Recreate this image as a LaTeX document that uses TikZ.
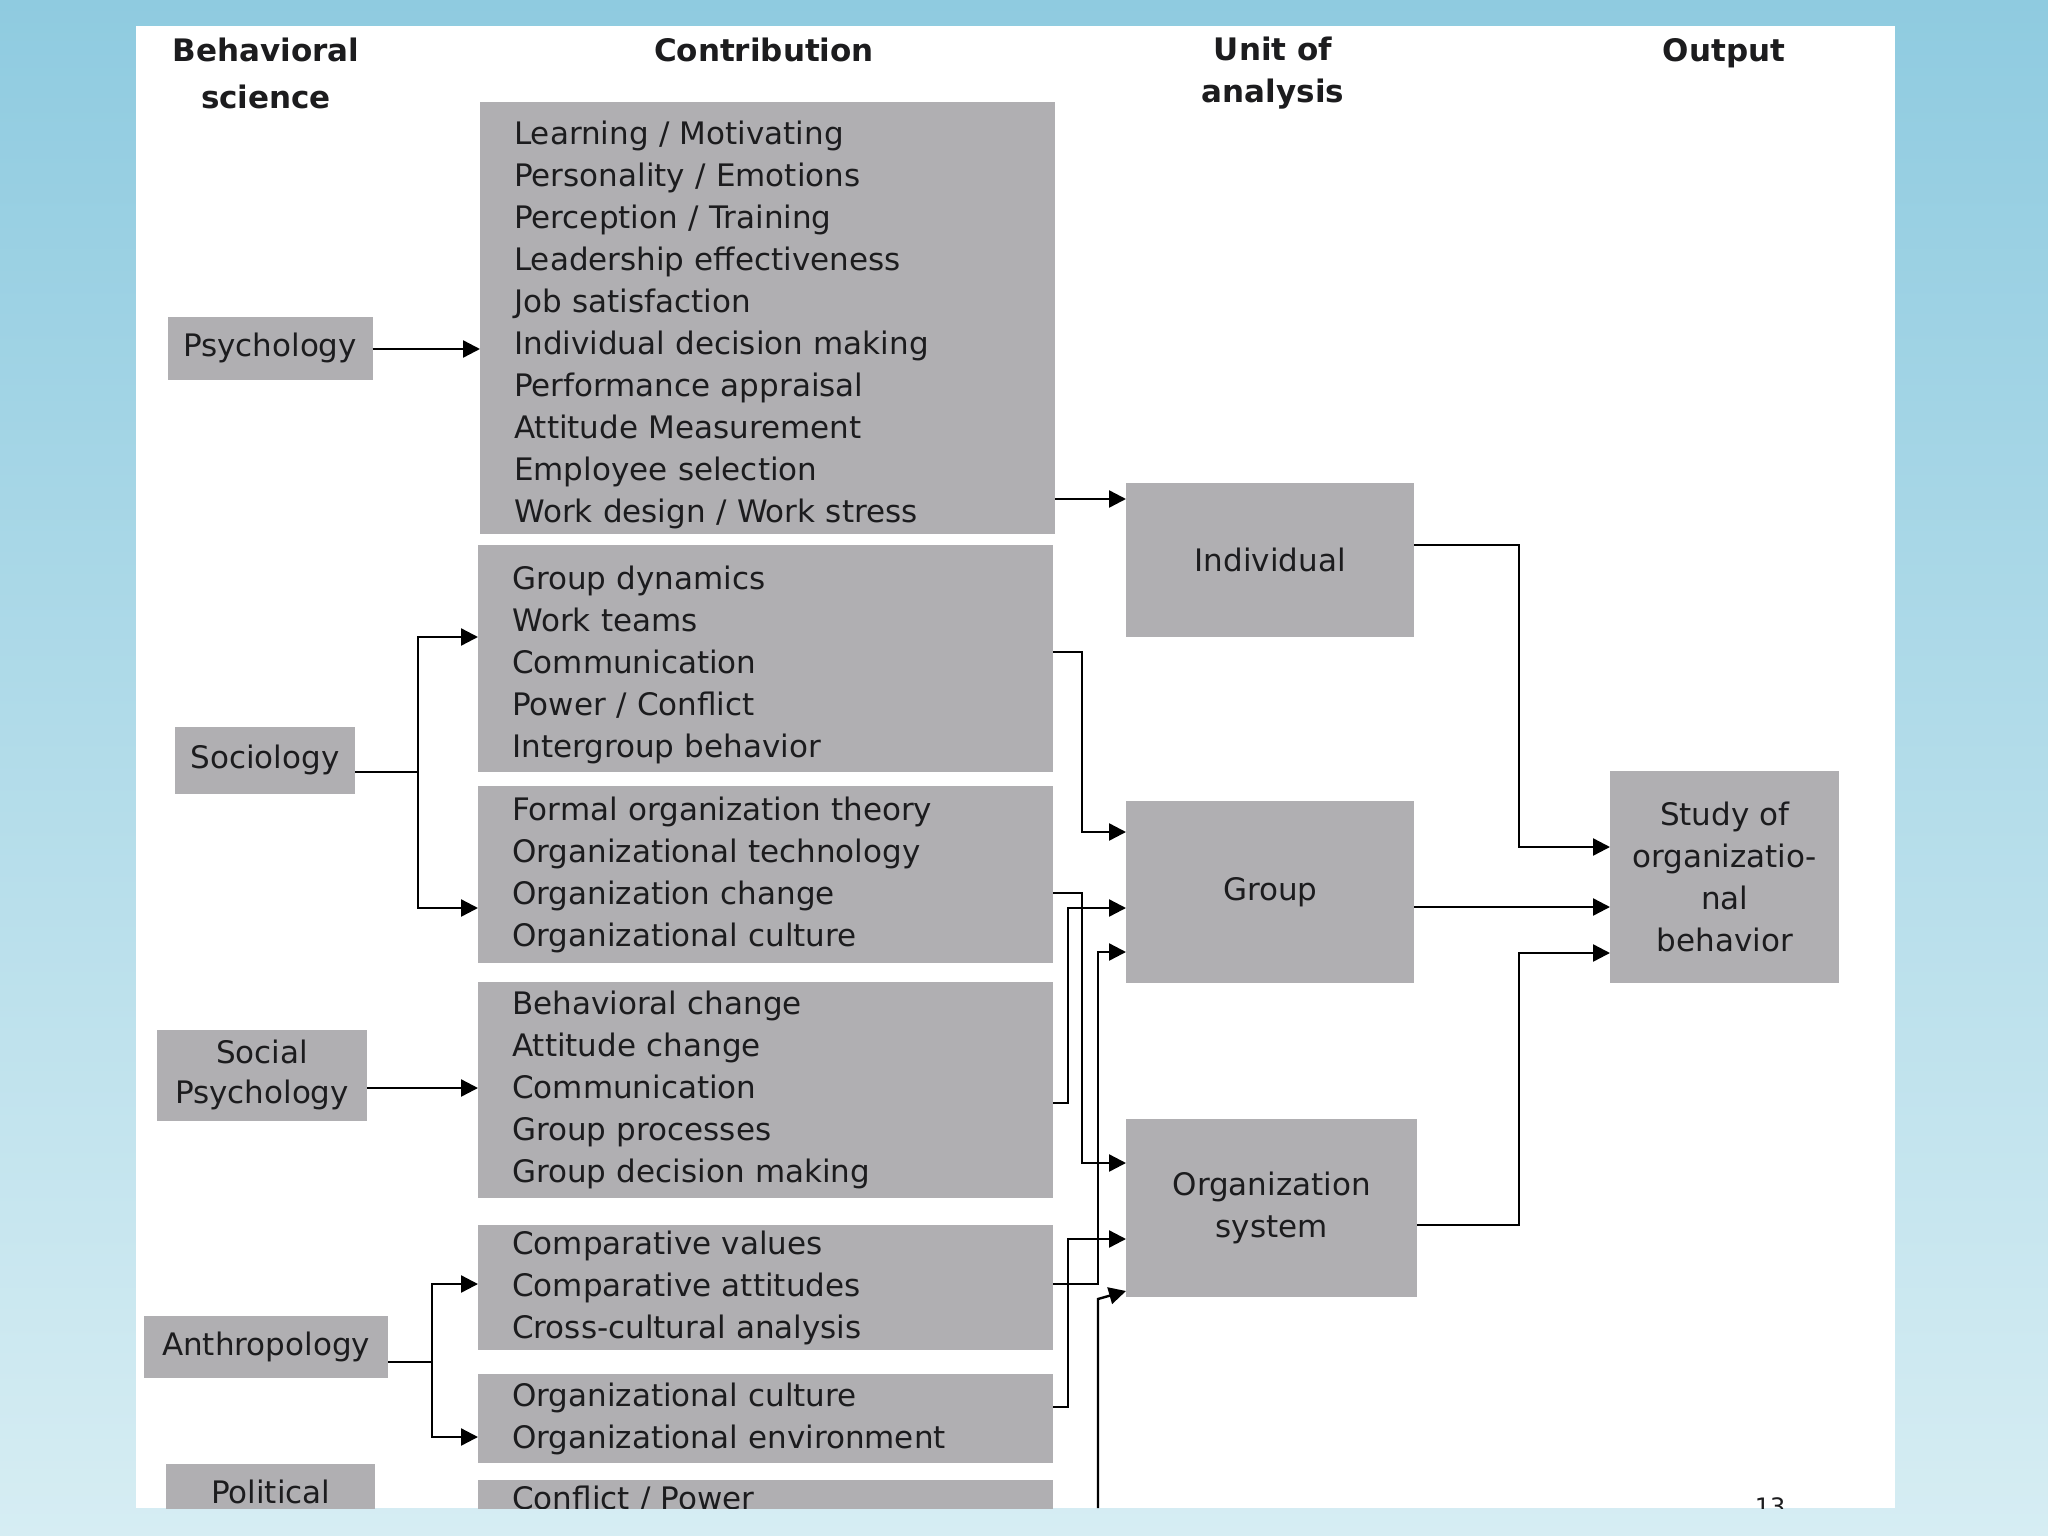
\documentclass[tikz,border=0pt]{standalone}
\usepackage{fontspec}
\setmainfont{DejaVu Sans}
\usetikzlibrary{
    arrows.meta,
    positioning,
    calc
}

\definecolor{boxgray}{RGB}{176,175,178}
\definecolor{bgtop}{RGB}{143,203,224}
\definecolor{bgbottom}{RGB}{214,237,243}
\definecolor{ink}{RGB}{28,28,30}

\begin{document}
\begin{tikzpicture}[
    x=1pt, y=-1pt,
    every node/.style={font=\fontsize{31}{42}\selectfont, text=ink},
    heading/.style={font=\bfseries\fontsize{31}{47}\selectfont, align=center},
    science/.style={rectangle, fill=boxgray, inner sep=0pt, align=center},
    contrib/.style={rectangle, fill=boxgray, anchor=north west,
                    text width=507pt, inner xsep=34pt, inner ysep=0pt,
                    align=left},
    unit/.style={rectangle, fill=boxgray, inner sep=0pt, align=center,
                 anchor=north west},
    link/.style={line width=2.4pt},
    arrow/.style={-{Triangle[length=17pt,width=17pt]}, line width=2.4pt}
]

    \useasboundingbox (0,0) rectangle (2048,1536);
    \shade [top color=bgtop, bottom color=bgbottom] (0,0) rectangle (2048,1536);
    \fill [white] (136,26) rectangle (1895,1508);

    % Headings
    \node (hscience) [heading] at (266,73) {Behavioral\\science};
    \node (hcontrib) [heading] at (764,50) {Contribution};
    \node (hunit) [heading, font=\bfseries\fontsize{31}{42}\selectfont] at (1273,73) {Unit of\\analysis};
    \node (houtput) [heading] at (1724,53) {Output};

    % Behavioral sciences
    \node (psych) [science, minimum width=205pt, minimum height=63pt] at (270,348) {Psychology};
    \node (socio) [science, minimum width=180pt, minimum height=67pt] at (265,760) {Sociology};
    \node (socpsych) [science, minimum width=210pt, minimum height=91pt,
                      font=\fontsize{31}{40}\selectfont] at (262,1075) {Social\\Psychology};
    \node (anthro) [science, minimum width=244pt, minimum height=62pt] at (266,1347) {Anthropology};

    % Contributions
    \node (pcontrib) [contrib, minimum height=432pt] at (480,102) {
        \rule{0pt}{38pt}Learning / Motivating\\
        Personality / Emotions\\
        Perception / Training\\
        Leadership effectiveness\\
        Job satisfaction\\
        Individual decision making\\
        Performance appraisal\\
        Attitude Measurement\\
        Employee selection\\
        Work design / Work stress
    };
    \node (scontrib1) [contrib, minimum height=227pt] at (478,545) {
        \rule{0pt}{36pt}Group dynamics\\
        Work teams\\
        Communication\\
        Power / Conflict\\
        Intergroup behavior
    };
    \node (scontrib2) [contrib, minimum height=177pt] at (478,786) {
        Formal organization theory\\
        Organizational technology\\
        Organization change\\
        Organizational culture
    };
    \node (spcontrib) [contrib, minimum height=216pt] at (478,982) {
        Behavioral change\\
        Attitude change\\
        Communication\\
        Group processes\\
        Group decision making
    };
    \node (acontrib1) [contrib, minimum height=125pt] at (478,1225) {
        Comparative values\\
        Comparative attitudes\\
        Cross-cultural analysis
    };
    \node (acontrib2) [contrib, minimum height=89pt] at (478,1374) {
        Organizational culture\\
        Organizational environment
    };

    % Units of analysis
    \node (indiv) [unit, minimum width=288pt, minimum height=154pt] at (1126,483) {Individual};
    \node (group) [unit, minimum width=288pt, minimum height=182pt] at (1126,801) {Group};
    \node (orgsys) [unit, minimum width=291pt, minimum height=178pt] at (1126,1119) {Organization\\system};

    % Output
    \node (study) [unit, minimum width=229pt, minimum height=212pt] at (1610,771)
        {Study of\\organizatio-\\nal\\behavior};

    % Cut-off bottom row
    \begin{scope}
        \clip (136,26) rectangle (1895,1508);
        \node (polit) [science, anchor=north west, minimum width=209pt,
                       minimum height=56pt] at (166,1464) {Political};
        \node (pocontrib) [contrib, minimum height=38pt] at (478,1480) {Conflict / Power};
        \node (pagenum) [font=\fontsize{24}{28}\selectfont] at (1770,1507) {13};
    \end{scope}

    % Sciences to contributions
    \draw [arrow] (psych.east |- 0,349) -- (pcontrib.west |- 0,349);
    \draw [link] (socio.east |- 0,772) -- (418,772);
    \draw [arrow] (418,772) |- (scontrib1.west |- 0,637);
    \draw [arrow] (418,772) |- (scontrib2.west |- 0,908);
    \draw [arrow] (socpsych.east |- 0,1088) -- (spcontrib.west |- 0,1088);
    \draw [link] (anthro.east |- 0,1362) -- (432,1362);
    \draw [arrow] (432,1362) |- (acontrib1.west |- 0,1284);
    \draw [arrow] (432,1362) |- (acontrib2.west |- 0,1437);

    % Contributions to units
    \draw [arrow] (pcontrib.east |- 0,499) -- (indiv.west |- 0,499);
    \draw [arrow] (scontrib1.east |- 0,652) -| (1082,832) -- (group.west |- 0,832);
    \draw [arrow] (scontrib2.east |- 0,893) -| (1082,1163) -- (orgsys.west |- 0,1163);
    \draw [arrow] (spcontrib.east |- 0,1103) -| (1068,908) -- (group.west |- 0,908);
    \draw [arrow] (acontrib1.east |- 0,1284) -| (1098,952) -- (group.west |- 0,952);
    \draw [arrow] (acontrib2.east |- 0,1407) -| (1068,1239) -- (orgsys.west |- 0,1239);
    \draw [arrow] (1098,1508) -- (1098,1299) -- (orgsys.west |- 0,1291);

    % Units to output
    \draw [arrow] (indiv.east |- 0,545) -| (1519,847) -- (study.west |- 0,847);
    \draw [arrow] (group.east |- 0,907) -- (study.west |- 0,907);
    \draw [arrow] (orgsys.east |- 0,1225) -| (1519,953) -- (study.west |- 0,953);

\end{tikzpicture}
\end{document}
